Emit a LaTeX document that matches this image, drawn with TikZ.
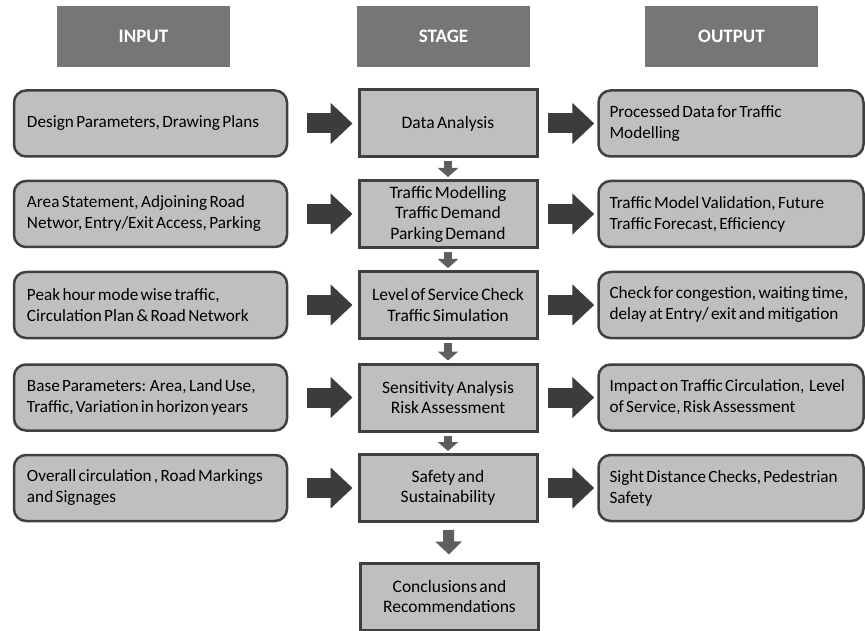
\documentclass[tikz,border=0pt]{standalone}
\usepackage{fontspec}
\setmainfont{Carlito}[WordSpace=0.6]
\usetikzlibrary{arrows.meta}
\definecolor{hdrgray}{HTML}{767676}
\definecolor{boxgray}{HTML}{BFBFBF}
\definecolor{edgegray}{HTML}{404040}
\definecolor{arrgray}{HTML}{3C3C3C}
\definecolor{downgray}{HTML}{5E5E5E}
\hyphenpenalty=10000
\begin{document}
\begin{tikzpicture}[x=1pt, y=-1pt,
  header/.style={fill=hdrgray, text=white, font=\fontsize{19}{22}\selectfont\bfseries, minimum width=173pt, minimum height=61pt},
  inbox/.style={draw=edgegray, line width=2.5pt, fill=boxgray, rounded corners=12pt, text width=#1, inner xsep=13pt, minimum height=66pt, align=flush left, font=\fontsize{17.2}{21}\selectfont},
  outbox/.style={inbox=243pt, inner xsep=11pt},
  stagebox/.style={draw=edgegray, line width=3pt, fill=boxgray, minimum width=178pt, minimum height=67pt, align=center, font=\fontsize{17.5}{20.5}\selectfont},
  bigarrow/.style={arrgray, line width=20pt, -{Triangle[width=40pt, length=22pt]}},
  downarrow/.style={downgray, line width=8pt, -{Triangle[width=20pt, length=9pt]}}]
\useasboundingbox (0,0) rectangle (865,631);

% headings
\node[header] (hin) at (143.5,36.5) {INPUT};
\node[header] (hst) at (443.5,36.5) {STAGE};
\node[header] (hout) at (731.5,36.5) {OUTPUT};

% input column
\node[inbox=247pt] (in1) at (150.5,123.5) {Design Parameters, Drawing Plans};
\node[inbox=247pt] (in2) at (150.5,214) {Area Statement, Adjoining Road\\Networ, Entry/Exit Access, Parking};
\node[inbox=247pt] (in3) at (150.5,305) {Peak hour mode wise traffic,\\Circulation Plan \& Road Network};
\node[inbox=247pt] (in4) at (150.5,397.5) {Base Parameters: Area, Land Use,\\Traffic, Variation in horizon years};
\node[inbox=247pt] (in5) at (150.5,488) {Overall circulation , Road Markings\\and Signages};

% stage column
\node[stagebox] (st1) at (448,123.5) {Data Analysis};
\node[stagebox] (st2) at (448,214) {Traffic Modelling\\Traffic Demand\\Parking Demand};
\node[stagebox] (st3) at (448,305) {Level of Service Check\\Traffic Simulation};
\node[stagebox] (st4) at (448,397.5) {Sensitivity Analysis\\Risk Assessment};
\node[stagebox] (st5) at (448,488) {Safety and\\Sustainability};
\node[stagebox] (con) at (449.5,596.5) {Conclusions and\\Recommendations};

% output column
\node[outbox] (out1) at (731,123.5) {Processed Data for Traffic\\Modelling};
\node[outbox] (out2) at (731,214) {Traffic Model Validation, Future\\Traffic Forecast, Efficiency};
\node[outbox] (out3) at (731,305) {Check for congestion, waiting time,\\delay at Entry/ exit and mitigation};
\node[outbox] (out4) at (731,397.5) {Impact on Traffic Circulation, ~Level\\of Service, Risk Assessment};
\node[outbox] (out5) at (731,488) {Sight Distance Checks, Pedestrian\\Safety};

% arrows
\foreach \i in {1,...,5}{
  \draw[bigarrow, shorten <=19pt, shorten >=5pt] (in\i) -- (st\i);
  \draw[bigarrow, shorten <=9pt, shorten >=3pt] (st\i) -- (out\i);
}
\foreach \i/\j in {1/2,2/3,3/4,4/5}{
  \draw[downarrow, shorten <=3pt, shorten >=2pt] (st\i) -- (st\j);
}
\draw[downarrow, line width=11pt, -{Triangle[width=26pt, length=13pt]}, shorten <=7pt, shorten >=7pt] (st5) -- (con);
\end{tikzpicture}
\end{document}
